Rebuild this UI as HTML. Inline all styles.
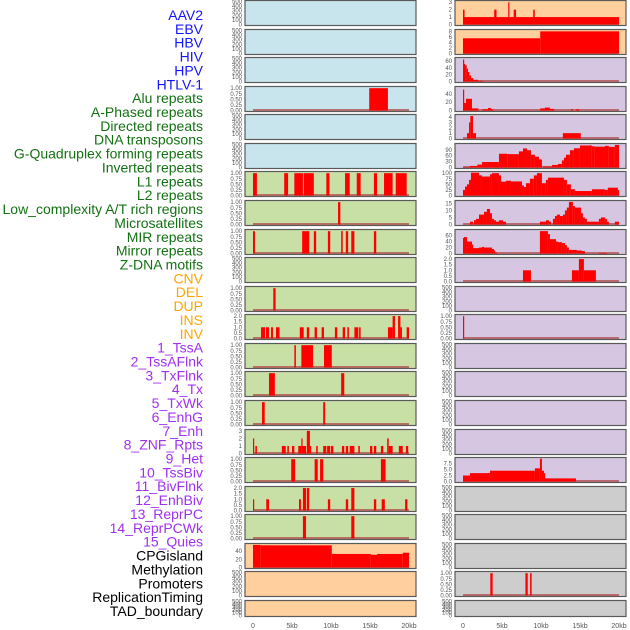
<!DOCTYPE html>
<html><head><meta charset="utf-8"><style>
html,body{margin:0;padding:0;background:#fff;}
svg{display:block;font-family:"Liberation Sans",sans-serif;}
</style></head><body>
<svg id="chart" width="630" height="630" viewBox="0 0 630 630"></svg>
<script>
const trackNames = ["AAV2","EBV","HBV","HIV","HPV","HTLV-1","Alu repeats","A-Phased repeats","Directed repeats","DNA transposons","G-Quadruplex forming repeats","Inverted repeats","L1 repeats","L2 repeats","Low_complexity A/T rich regions","Microsatellites","MIR repeats","Mirror repeats","Z-DNA motifs","CNV","DEL","DUP","INS","INV","1_TssA","2_TssAFlnk","3_TxFlnk","4_Tx","5_TxWk","6_EnhG","7_Enh","8_ZNF_Rpts","9_Het","10_TssBiv","11_BivFlnk","12_EnhBiv","13_ReprPC","14_ReprPCWk","15_Quies","CPGisland","Methylation","Promoters","ReplicationTiming","TAD_boundary"];
const labelColors = ["#1414ff","#1414ff","#1414ff","#1414ff","#1414ff","#1414ff",
"#137113","#137113","#137113","#137113","#137113","#137113","#137113","#137113","#137113","#137113","#137113","#137113","#137113",
"#ffa500","#ffa500","#ffa500","#ffa500","#ffa500",
"#a030f0","#a030f0","#a030f0","#a030f0","#a030f0","#a030f0","#a030f0","#a030f0","#a030f0","#a030f0","#a030f0","#a030f0","#a030f0","#a030f0","#a030f0",
"#000","#000","#000","#000","#000"];
const B="#c8e4ec",G="#c8e0a6",P="#ffd09e",U="#d6c6e2",Y="#cdcdcd";
const trackBg = [B,B,B,B,B,B,G,G,G,G,G,G,G,G,G,G,G,G,G,P,P,P, P,P,U,U,U,U,U,U,U,U,U,U,U,U,U,U,U,Y,Y,Y,Y,Y];
const T01=["0.00","0.25","0.50","0.75","1.00"], TE=["0","100","200","300","400","500"], T02=["0.0","0.5","1.0","1.5","2.0"];
const trackTicks = [TE,TE,TE,T01,TE,TE,T01,T01,T01,TE,T01,T02,T01,T01,T01,["0","1","2","3"],T01,T02,T01,["0","20","40"],TE,TE,
 ["0","1","2","3"],["0","2","4","6","8"],["0","20","40","60"],["0","20","40"],["0","1","2","3","4"],["0","30","60","90"],["0","25","50","75","100"],["0","5","10","15"],["0","20","40","60"],T02,TE,T01,TE,TE,TE,TE,["0.0","2.5","5.0","7.5"],TE,TE,TE,T01,TE];
const trackYmax = [500,500,500,1.03,500,500,1.03,1.03,1.03,500,1.03,2.05,1.03,1.03,1.03,3.05,1.03,2.05,1.03,56,500,500,
 3.1,8.3,68,55,4.3,117,103,16.3,77,2.05,500,1.03,500,500,500,500,9.6,500,500,500,1.03,500];
const trackSegments = [
 [],[],[],[[14.9,17.3,1]],[],[],
 [[0,0.5,1],[4.0,4.5,1],[5.3,6.4,1],[6.5,7.8,1],[9.4,9.8,1],[11.8,12.4,1],[13.3,13.8,1],[15.5,15.9,1],[16.8,17.9,1],[18.3,19.7,1]],
 [[10.9,11.2,1]],
 [[0,0.25,1],[6.3,7.2,1],[7.8,8.1,1],[9.6,9.9,1],[11.3,11.5,1],[11.9,12.2,1],[12.6,13.0,1],[15.5,15.8,1]],
 [],
 [[2.6,2.9,1]],
 [[1.03,1.54,1],[1.67,2.05,1],[2.31,2.56,1],[2.95,3.4,1],[6.0,6.5,1],[6.9,7.2,1],[7.9,8.2,1],[8.8,9.1,1],[10.5,10.8,1],[11.5,11.8,1],[12.1,12.3,1],[13.0,13.5,1],[13.6,13.8,1],[17.3,17.9,1],[17.9,18.2,2],[18.6,18.9,2],[18.9,19.1,1],[19.7,20,1]],
 [[5.3,5.5,1],[6.2,7.7,1],[9.1,10.1,1]],
 [[2.05,2.8,1],[11.3,11.7,1]],
 [[1.15,1.5,1],[9.0,9.25,1]],
 [[0,0.15,2],[0.3,0.5,1],[3.7,4.2,1],[4.4,4.6,1],[5.0,5.3,1],[5.8,6.2,1],[6.2,6.3,2],[6.3,6.8,1],[6.9,7.3,3],[7.3,7.4,1],[8.1,8.3,1],[9.0,9.4,1],[9.5,9.9,1],[10.0,10.3,1],[11.4,11.7,1],[11.9,12.2,1],[12.4,13.0,1],[13.5,13.7,1],[15.0,15.3,1],[15.5,15.8,1],[16.4,16.7,1],[17.2,17.4,2],[17.4,17.9,1],[18.7,19.2,1],[19.6,19.9,1]],
 [[4.9,5.4,1],[7.9,8.3,1],[8.6,9.0,1],[16.4,17.0,1]],
 [[0,0.15,1],[1.7,2.05,1],[5.9,6.15,1],[6.4,6.8,2],[6.9,7.2,2],[9.6,9.9,1],[11.9,12.2,1],[12.6,13.0,2],[15.5,15.8,1],[16.5,16.9,1],[19.5,19.8,1]],
 [[6.4,6.8,1],[12.6,13.0,1]],
 [[0,1,55],[1,10.1,54],[10.1,15.1,33],[15.1,15.9,31],[15.9,19.2,33],[19.2,20,36]],
 [],[],
 [[0,20,1],[0,0.2,2],[4.0,4.3,2],[5.8,5.95,3],[6.5,6.8,2],[9.0,9.2,2]],
 [[0,9.9,5.5],[9.9,20,8]],
 [[0,0.04,65],[0.04,0.26,52],[0.26,0.47,48],[0.47,0.64,38],[0.64,0.81,28],[0.81,1.03,18],[1.03,1.32,10],[1.32,1.92,5],[1.92,2.6,2]],
 [[0,0.13,50],[0.13,0.38,18],[0.38,1.15,28],[1.15,1.97,5],[2.48,3.2,3],[3.2,3.6,6],[3.6,3.9,3],[9.9,10.5,5],[10.5,11.15,7],[11.15,11.7,4],[13.85,14.1,3],[14.5,14.9,3]],
 [[0.51,0.77,1],[0.77,0.94,3],[0.94,1.28,4.2],[1.28,1.67,1],[12.8,15.1,1]],
 [[0,0.9,2],[0.9,1.84,8],[1.84,2.43,15],[2.43,4.61,28],[4.61,5.68,70],[5.68,7.17,68],[7.17,7.69,82],[7.69,8.2,97],[8.2,8.71,88],[8.71,9.22,65],[9.22,9.74,55],[9.74,10.12,41],[10.25,11.4,5],[11.4,12.17,13],[12.17,12.68,18],[12.68,12.94,36],[12.94,13.2,50],[13.2,13.71,65],[13.71,14.22,88],[14.22,14.99,98],[14.99,16.52,112],[16.52,16.9,108],[16.9,18.2,106],[18.2,18.7,110],[18.7,19.47,105],[19.47,20,115]],
 [[0,0.26,25],[0.26,0.51,40],[0.51,0.77,50],[0.77,1.02,70],[1.02,2.05,102],[2.05,2.43,90],[2.43,3.46,85],[3.46,3.71,95],[3.71,4.61,100],[4.61,4.87,90],[4.87,5.51,62],[5.51,6.15,66],[6.15,7.56,63],[7.56,7.81,45],[7.81,8.07,38],[8.07,8.58,55],[8.58,9.09,75],[9.09,9.48,90],[9.48,10.12,100],[10.12,10.63,55],[10.63,10.89,70],[10.89,12.94,80],[12.94,13.32,70],[13.32,13.83,50],[13.83,14.35,28],[14.35,16.52,20],[16.52,18.19,28],[18.19,18.57,25],[18.57,19.86,35],[19.86,20,25]],
 [[0.9,1.28,2],[1.41,1.67,3],[1.67,2.05,4],[2.05,2.69,7],[2.69,3.07,9],[3.07,3.46,11],[3.46,3.71,8],[3.71,3.97,4],[3.97,4.23,3],[4.23,4.61,2],[4.61,5.12,3],[5.12,5.51,2],[9.86,10.63,2],[10.63,11.02,3],[11.02,11.27,2],[11.53,11.79,4],[11.79,12.04,6],[12.04,12.43,7],[12.43,12.81,6],[12.81,13.07,7],[13.07,13.32,10],[13.32,13.58,12],[13.58,14.09,16],[14.09,14.35,13],[14.35,15.12,12],[15.12,15.37,8],[15.37,15.63,5],[15.63,15.88,4],[15.88,17.42,2],[17.42,17.68,4],[17.68,18.19,5],[18.19,18.45,4],[18.45,18.7,2],[19.47,19.98,2]],
 [[0,0.13,52],[0.13,0.51,55],[0.51,1.15,40],[1.15,1.28,30],[1.28,2.05,18],[2.05,2.43,20],[2.43,2.69,22],[2.69,3.71,20],[3.71,3.97,15],[3.97,4.1,10],[4.1,4.36,3],[9.86,10.89,75],[10.89,11.15,65],[11.15,11.92,48],[11.92,12.17,40],[12.17,12.68,38],[12.68,13.07,35],[13.07,13.32,28],[13.32,13.58,20],[13.58,14.6,12],[14.6,15.24,10],[15.24,15.63,8],[17.42,18.45,2]],
 [[7.69,8.71,1],[13.96,14.86,1],[14.86,15.5,2],[15.5,17.04,1]],
 [],
 [[0,0.15,1]],
 [],[],[],[],
 [[0,0.9,2.5],[0.9,3.46,3.5],[3.46,9.22,4.5],[9.22,9.86,5.5],[9.86,10.12,9.5],[10.12,10.38,4.5],[10.38,10.5,3.5],[10.5,14.48,1.3]],
 [],[],[],
 [[3.5,3.8,1],[8.0,8.3,1],[8.6,8.8,1]],
 []
];
const xTickLabels = ["0","5kb","10kb","15kb","20kb"];
const xTickValues = [0,5,10,15,20];

const svg = document.getElementById('chart');
const NS = "http://www.w3.org/2000/svg";
function mk(tag, attrs, parent){ const e=document.createElementNS(NS,tag); for(const k in attrs) e.setAttribute(k,attrs[k]); (parent||svg).appendChild(e); return e; }
function slug(s){ return s.toLowerCase().replace(/[^a-z0-9]+/g,'-').replace(/^-|-$/g,''); }

trackNames.forEach((n,i)=>{
  const t = mk('text',{x:203,y:(20+i*13.86).toFixed(1),'text-anchor':'end','font-size':14,fill:labelColors[i]});
  t.textContent = n;
  
  
});

const colX = [253, 463]; const pxPerKb = 7.8;
for(let i=0;i<trackNames.length;i++){
  const col = i<22?0:1, r = i%22;
  const top = Math.round(r*28.57)+0.5, h = r===21?16:25;
  const x0 = colX[col]-8, w = 171;
  const xs = kb => colX[col] + kb*pxPerKb;
  const ymax = trackYmax[i];
  const ys = v => top + h - 1 - v/ymax*(h-2);
  const g = mk('g',{});
  
  
  mk('rect',{x:x0,y:top,width:w,height:h,fill:trackBg[i]},g);
  const segs = trackSegments[i];
  if(segs.length){
    mk('line',{x1:xs(0),x2:xs(20),y1:ys(0)-0.5,y2:ys(0)-0.5,stroke:'#b24a4a','stroke-width':2,'stroke-opacity':0.75},g);
  }
  segs.forEach(s=>{
    const b = mk('rect',{x:xs(s[0]).toFixed(2),y:ys(s[2]).toFixed(2),width:Math.max(1.2,(s[1]-s[0])*pxPerKb).toFixed(2),height:(ys(0)-ys(s[2])).toFixed(2),fill:'#ff0000'},g);
    
    
  });
  mk('rect',{x:x0,y:top,width:w,height:h,fill:'none',stroke:'#5a5a5a','stroke-width':1.2},g);
  const ticks = trackTicks[i];
  ticks.forEach(tk=>{
    const v = parseFloat(tk);
    const t = mk('text',{x:x0-3,y:(ys(v)+2).toFixed(1),'text-anchor':'end','font-size':6,fill:'#555'},g);
    t.textContent = tk;
    
    
  });
}
for(let c=0;c<2;c++){
  xTickValues.forEach((v,k)=>{
    const t = mk('text',{x:colX[c]+v*pxPerKb,y:628,'text-anchor':'middle','font-size':7,fill:'#555'});
    t.textContent = xTickLabels[k];
    
    
  });
}
</script>
</body></html>
